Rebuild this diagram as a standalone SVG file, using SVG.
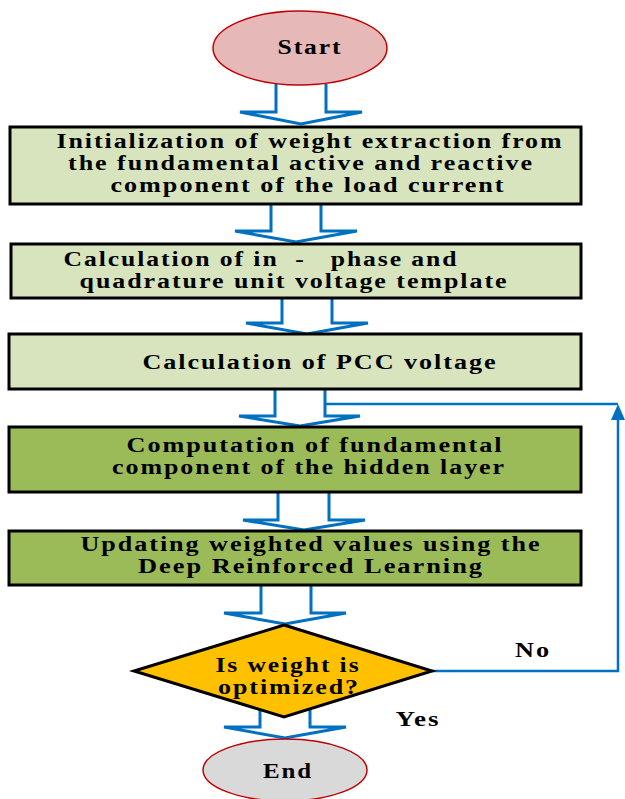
<svg xmlns="http://www.w3.org/2000/svg" width="625" height="799" viewBox="0 0 625 799">
<style>
.t{font-family:"Liberation Serif","Times New Roman",serif;font-weight:bold;font-size:20px;fill:#000;text-anchor:middle;white-space:pre;letter-spacing:1.5px}
.box{stroke:#000;stroke-width:3}
.light{fill:#d7e4bd}
.dark{fill:#9bbb59}
.blk{fill:none;stroke:#0070c0;stroke-width:3;stroke-linejoin:miter}
.fb{fill:none;stroke:#0070c0;stroke-width:2.5}
</style>
<rect width="625" height="799" fill="#fff"/>
<g id="connectors">
<path class="blk" d="M276,84 V112 H240 L301,124 L362,112 H326 V84"/>
<path class="blk" d="M271,205 V231 H235 L296,242 L357,231 H321 V205"/>
<path class="blk" d="M282,299 V323 H246 L307,334 L368,323 H332 V299"/>
<path class="blk" d="M275,389 V416 H239 L300,426 L360,416 H325 V389"/>
<path class="blk" d="M278,492 V520 H243 L304,530 L365,520 H329 V492"/>
<path class="blk" d="M261,585 V613 H224 L285,624 L346,613 H311 V585"/>
<path class="blk" d="M260,705 V727 H224 L285,738 L346,727 H310 V705"/>
<path class="fb" d="M325,404 H618"/>
<path class="fb" d="M432,671 H618 V418"/>
<polygon points="618,404 611,420 625,420" fill="#0070c0"/>
</g>
<g id="start">
<ellipse cx="300" cy="48" rx="87" ry="37" fill="#e6b8b7" stroke="#c00000" stroke-width="1.5"/>
<text class="t" x="310" y="54" textLength="65" lengthAdjust="spacingAndGlyphs">Start</text>
</g>
<g id="box1">
<rect class="box light" x="10" y="127" width="571" height="77"/>
<text class="t" x="310" y="148" textLength="507" lengthAdjust="spacingAndGlyphs">Initialization of weight extraction from</text>
<text class="t" x="301" y="170" textLength="466" lengthAdjust="spacingAndGlyphs">the fundamental active and reactive</text>
<text class="t" x="308" y="192" textLength="395" lengthAdjust="spacingAndGlyphs">component of the load current</text>
</g>
<g id="box2">
<rect class="box light" x="11" y="244" width="570" height="54"/>
<text class="t" x="261" y="266" textLength="395" lengthAdjust="spacingAndGlyphs">Calculation of in  -   phase and</text>
<text class="t" x="294" y="288" textLength="429" lengthAdjust="spacingAndGlyphs">quadrature unit voltage template</text>
</g>
<g id="box3">
<rect class="box light" x="9" y="334" width="572" height="55"/>
<text class="t" x="320" y="369" textLength="355" lengthAdjust="spacingAndGlyphs">Calculation of PCC voltage</text>
</g>
<g id="box4">
<rect class="box dark" x="9" y="427" width="572" height="65"/>
<text class="t" x="315" y="452" textLength="377" lengthAdjust="spacingAndGlyphs">Computation of fundamental</text>
<text class="t" x="309" y="474" textLength="394" lengthAdjust="spacingAndGlyphs">component of the hidden layer</text>
</g>
<g id="box5">
<rect class="box dark" x="9" y="531" width="572" height="54"/>
<text class="t" x="311" y="551" textLength="461" lengthAdjust="spacingAndGlyphs">Updating weighted values using the</text>
<text class="t" x="311" y="573" textLength="346" lengthAdjust="spacingAndGlyphs">Deep Reinforced Learning</text>
</g>
<g id="decision">
<polygon points="284,625 432,671 284,717 134,671" fill="#ffc000" stroke="#000" stroke-width="3"/>
<text class="t" x="288" y="672" textLength="145" lengthAdjust="spacingAndGlyphs">Is weight is</text>
<text class="t" x="289" y="694" textLength="142" lengthAdjust="spacingAndGlyphs">optimized?</text>
</g>
<g id="labels">
<text class="t" x="533" y="657" textLength="36" lengthAdjust="spacingAndGlyphs">No</text>
<text class="t" x="418" y="726" textLength="45" lengthAdjust="spacingAndGlyphs">Yes</text>
</g>
<g id="end">
<ellipse cx="285" cy="770" rx="82" ry="31" fill="#d9d9d9" stroke="#c00000" stroke-width="1.5"/>
<text class="t" x="288" y="778" textLength="50" lengthAdjust="spacingAndGlyphs">End</text>
</g>
</svg>
